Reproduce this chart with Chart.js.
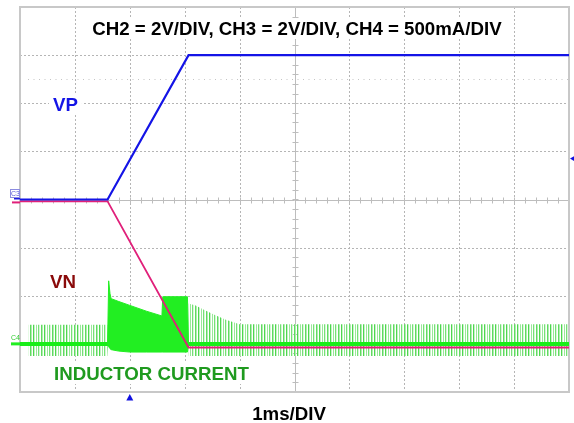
<!DOCTYPE html>
<html>
<head>
<meta charset="utf-8">
<script src="https://cdn.jsdelivr.net/npm/chart.js@4/dist/chart.umd.min.js"></script>
<style>
  html, body { margin: 0; padding: 0; background: #fff; }
  canvas { display: block; }
</style>
</head>
<body>
<canvas id="scope" width="574" height="423"></canvas>
<script>
// time axis in ms, 1 ms per division, 10 divisions
let vp_time = [0, 1.595, 3.07, 10];
let vp_volts = [0, 0, 6.0, 6.0];

let vn_time = [0, 1.595, 3.07, 10];
let vn_volts = [-0.08, -0.08, -6.15, -6.15];

// inductor current in mA: solid burst while the rails ramp
let burst_time = [1.595, 1.615, 1.64, 1.66, 1.8, 2.0, 2.3, 2.585, 2.6, 3.05, 3.07];
let burst_top = [0, 655, 520, 470, 440, 400, 340, 290, 490, 490, 0];
let burst_bottom = [0, -30, -50, -60, -75, -85, -85, -85, -85, -85, 0];

// switching ripple envelope outside the burst
let ripple_time = [0.15, 1.59, 1.6, 3.06, 3.07, 3.2, 3.35, 3.55, 3.75, 4.0, 10];
let ripple_top = [200, 200, 0, 0, 420, 400, 355, 300, 250, 205, 205];
let ripple_bottom = [-125, -125, 0, 0, -125, -125, -125, -125, -125, -125, -125];

let base_time = [0, 10];
let base_current = [0, 0];

let title_text = 'CH2 = 2V/DIV, CH3 = 2V/DIV, CH4 = 500mA/DIV';
let time_label = '1ms/DIV';
let trigger_time = 2;     // ms
let trigger_level = 1.7;  // V on CH2

const FONT = '"Liberation Sans", Arial, sans-serif';

function points(xs, ys) {
    return xs.map((x, i) => ({ x: x, y: ys[i] }));
}

// vertical stripe texture for the ripple spikes
function rippleTexture() {
    const c = document.createElement('canvas');
    const cols = ['#4fd64f', '#c4f3c4', null, '#9ae89a', null, '#76e076',
                  '#d6f8d6', null, '#60da60', '#aeeeae', null];
    c.width = cols.length;
    c.height = 1;
    const g = c.getContext('2d');
    cols.forEach((col, i) => {
        if (col) { g.fillStyle = col; g.fillRect(i, 0, 1, 1); }
    });
    return document.getElementById('scope').getContext('2d').createPattern(c, 'repeat');
}

function hline(ctx, x1, x2, y) {
    ctx.beginPath(); ctx.moveTo(x1, y); ctx.lineTo(x2, y); ctx.stroke();
}
function vline(ctx, x, y1, y2) {
    ctx.beginPath(); ctx.moveTo(x, y1); ctx.lineTo(x, y2); ctx.stroke();
}

const scopeGrid = {
    id: 'scopeGrid',
    beforeDatasetsDraw(chart) {
        const { ctx, chartArea: a, scales } = chart;
        const x = scales.x, y = scales.y;
        ctx.save();
        ctx.lineWidth = 1;
        ctx.strokeStyle = '#b5b5b5';
        ctx.setLineDash([2, 2]);
        for (let t = 1; t < 10; t++) {
            const px = Math.round(x.getPixelForValue(t)) + 0.5;
            vline(ctx, px, a.top, a.bottom);
        }
        for (let v = -6; v <= 6; v += 2) {
            if (v === 0) continue;
            const py = Math.round(y.getPixelForValue(v)) + 0.5;
            hline(ctx, a.left, a.right, py);
        }
        // faint dotted row half a division under the top level
        ctx.strokeStyle = '#c4c4c4';
        ctx.setLineDash([1, 4.5]);
        hline(ctx, a.left + 8, a.right, Math.round(y.getPixelForValue(5)) + 0.5);

        // centre axes with minor ticks
        ctx.setLineDash([]);
        ctx.strokeStyle = '#bdbdbd';
        const cy = Math.round(y.getPixelForValue(0)) + 0.5;
        const cx = Math.round(x.getPixelForValue(5)) + 0.5;
        hline(ctx, a.left, a.right, cy);
        vline(ctx, cx, a.top, a.bottom);
        for (let t = 0.2; t < 10; t += 0.2) {
            const px = Math.round(x.getPixelForValue(t)) + 0.5;
            vline(ctx, px, cy - 3, cy + 3);
        }
        for (let v = -7.6; v < 8; v += 0.4) {
            const py = Math.round(y.getPixelForValue(v)) + 0.5;
            hline(ctx, cx - 3, cx + 3, py);
        }

        // frame
        ctx.strokeStyle = '#c8c8c8';
        ctx.lineWidth = 2;
        ctx.strokeRect(a.left, a.top, a.right - a.left, a.bottom - a.top);
        ctx.restore();
    },
    afterDatasetsDraw(chart) {
        const { ctx, chartArea: a, scales } = chart;
        const x = scales.x, y = scales.y, yI = scales.yI;

        function label(text, px, py, color, align) {
            ctx.font = 'bold 18.7px ' + FONT;
            ctx.textAlign = align || 'left';
            ctx.textBaseline = 'alphabetic';
            const w = ctx.measureText(text).width;
            const left = align === 'center' ? px - w / 2 : px;
            ctx.fillStyle = '#fff';
            ctx.fillRect(left - 4, py - 17, w + 8, 21);
            ctx.fillStyle = color;
            ctx.fillText(text, px, py);
        }

        ctx.save();
        label(title_text, 297, 35, '#000', 'center');
        label('VP', 53, 110.5, '#1414e6');
        label('VN', 50, 288, '#8a0a0a');
        label('INDUCTOR CURRENT', 54, 380, '#1f9a1f');

        ctx.font = 'bold 18.7px ' + FONT;
        ctx.fillStyle = '#000';
        ctx.textAlign = 'center';
        ctx.fillText(time_label, 289, 420);

        // channel ground markers
        ctx.lineWidth = 2;
        ctx.strokeStyle = '#e0207a';
        const vn0 = y.getPixelForValue(vn_volts[0]);
        hline(ctx, 12, a.left, vn0 + 1);
        ctx.strokeStyle = '#1a1ae0';
        hline(ctx, 14, a.left, y.getPixelForValue(vp_volts[0]) - 1);
        ctx.strokeStyle = '#22ee22';
        ctx.lineWidth = 3;
        hline(ctx, 11, a.left, yI.getPixelForValue(0));

        ctx.font = '7px ' + FONT;
        ctx.textAlign = 'left';
        ctx.fillStyle = '#5a5ad8';
        ctx.fillText('C3', 11, 196);
        ctx.strokeStyle = '#8c8ce0';
        ctx.lineWidth = 1;
        ctx.strokeRect(10.5, 189.5, 9, 8);
        ctx.fillStyle = '#33cc33';
        ctx.fillText('C4', 11, 340);

        // trigger position and level
        ctx.fillStyle = '#1010e0';
        const tx = x.getPixelForValue(trigger_time);
        ctx.beginPath();
        ctx.moveTo(tx, a.bottom + 2);
        ctx.lineTo(tx - 3.5, a.bottom + 8.5);
        ctx.lineTo(tx + 3.5, a.bottom + 8.5);
        ctx.closePath();
        ctx.fill();
        const ty = y.getPixelForValue(trigger_level);
        ctx.beginPath();
        ctx.moveTo(a.right + 1, ty);
        ctx.lineTo(a.right + 6, ty - 3);
        ctx.lineTo(a.right + 6, ty + 3);
        ctx.closePath();
        ctx.fill();
        ctx.restore();
    }
};

const ctx = document.getElementById('scope').getContext('2d');

const scopeChart = new Chart(ctx, {
    type: 'line',
    data: {
        datasets: [
            {
                label: 'VP',
                data: points(vp_time, vp_volts),
                yAxisID: 'y',
                borderColor: '#1414e6',
                borderWidth: 2.2,
                fill: false,
            },
            {
                label: 'VN',
                data: points(vn_time, vn_volts),
                yAxisID: 'y',
                borderColor: '#e0207a',
                borderWidth: 1.8,
                fill: false,
            },
            {
                label: 'burst top',
                data: points(burst_time, burst_top),
                yAxisID: 'yI',
                borderColor: '#22ee22',
                borderWidth: 1,
                backgroundColor: '#22ee22',
                fill: '+1',
            },
            {
                label: 'burst bottom',
                data: points(burst_time, burst_bottom),
                yAxisID: 'yI',
                borderColor: '#22ee22',
                borderWidth: 1,
                fill: false,
            },
            {
                label: 'inductor current',
                data: points(base_time, base_current),
                yAxisID: 'yI',
                borderColor: '#19ee19',
                borderWidth: 4,
                fill: false,
            },
            {
                label: 'ripple top',
                data: points(ripple_time, ripple_top),
                yAxisID: 'yI',
                borderColor: 'transparent',
                borderWidth: 0,
                backgroundColor: rippleTexture(),
                fill: '+1',
            },
            {
                label: 'ripple bottom',
                data: points(ripple_time, ripple_bottom),
                yAxisID: 'yI',
                borderColor: 'transparent',
                borderWidth: 0,
                fill: false,
            },
        ],
    },
    options: {
        responsive: false,
        animation: false,
        devicePixelRatio: 1,
        layout: {
            padding: { left: 20, right: 5, top: 7, bottom: 31 }
        },
        elements: {
            point: { radius: 0 },
            line: { tension: 0 }
        },
        scales: {
            x: { type: 'linear', min: 0, max: 10, display: false },
            y: { type: 'linear', min: -8, max: 8, display: false },
            yI: { type: 'linear', min: -500, max: 3500, display: false },
        },
        plugins: {
            legend: { display: false },
            tooltip: { enabled: false },
        },
    },
    plugins: [scopeGrid],
});
</script>
</body>
</html>
